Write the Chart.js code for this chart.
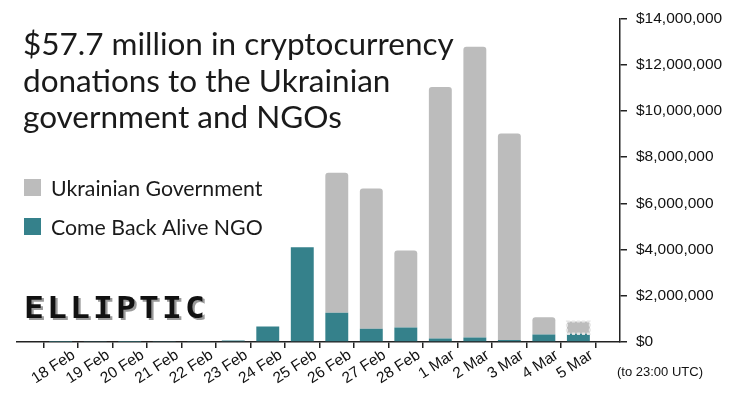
<!DOCTYPE html>
<html>
<head>
<meta charset="utf-8">
<script src="https://cdn.jsdelivr.net/npm/chart.js@4.4.1/dist/chart.umd.min.js"></script>
<style>
  html, body { margin: 0; padding: 0; background: #fff; }
</style>
</head>
<body>
<canvas id="myChart" width="731" height="395"></canvas>
<script>
// daily donations, USD
const dates = ["18 Feb", "19 Feb", "20 Feb", "21 Feb", "22 Feb", "23 Feb", "24 Feb", "25 Feb",
  "26 Feb", "27 Feb", "28 Feb", "1 Mar", "2 Mar", "3 Mar", "4 Mar", "5 Mar"];
const comeBackAlive = [15000, 20000, 12000, 18000, 22000, 60000, 670000, 4100000,
  1260000, 570000, 630000, 150000, 200000, 90000, 320000, 360000];
const ukrGovernment = [0, 0, 0, 0, 0, 0, 0, 0,
  6060000, 6070000, 3330000, 10880000, 12570000, 8930000, 750000, 530000];
const yTicks = [0, 2000000, 4000000, 6000000, 8000000, 10000000, 12000000, 14000000];
const titleLines = ["$57.7 million in cryptocurrency", "donations to the Ukrainian", "government and NGOs"];

const teal = '#35818b';
const grey = '#bcbcbc';

// title, legend, logo and the partial-day marker
const extras = {
  id: 'extras',
  afterDraw(chart) {
    const ctx = chart.ctx;
    ctx.save();
    ctx.fillStyle = '#1a1a1a';
    ctx.font = '31.5px Lato';
    ctx.textBaseline = 'alphabetic';
    titleLines.forEach((t, i) => ctx.fillText(t, 23, 55 + i * 36.5));

    // legend
    ctx.font = '21.3px Lato';
    const items = [chart.data.datasets[1], chart.data.datasets[0]];
    items.forEach((ds, i) => {
      const y = 179 + i * 39;
      ctx.fillStyle = ds.backgroundColor;
      ctx.fillRect(24, y, 17, 17);
      ctx.fillStyle = '#1a1a1a';
      ctx.fillText(ds.label, 51, y + 17);
    });

    // logo
    ctx.font = 'bold 30px "DejaVu Sans Mono"';
    const logo = 'ELLIPTIC';
    for (let i = 0; i < logo.length; i++) {
      ctx.save();
      ctx.translate(24 + i * 23, 318);
      ctx.scale(1.1, 1);
      ctx.fillStyle = '#9a9a9a';
      ctx.fillText(logo[i], 2, 2);
      ctx.fillStyle = '#111';
      ctx.fillText(logo[i], 0, 0);
      ctx.restore();
    }

    // note under the y axis
    ctx.font = '13px "Liberation Sans"';
    ctx.fillStyle = '#111';
    ctx.textBaseline = 'middle';
    ctx.fillText('(to 23:00 UTC)', 617, 372);

    // dashed outline on the incomplete last day
    const last = dates.length - 1;
    const g = chart.getDatasetMeta(1).data[last];
    const c = chart.getDatasetMeta(0).data[last];
    ctx.setLineDash([3, 2]);
    ctx.lineWidth = 2;
    ctx.strokeStyle = '#e6e6e6';
    ctx.strokeRect(g.x - g.width / 2, g.y, g.width, g.base - g.y);
    ctx.beginPath();
    ctx.moveTo(c.x - c.width / 2, c.y);
    ctx.lineTo(c.x + c.width / 2, c.y);
    ctx.stroke();
    ctx.restore();
  }
};

const tickFont = { family: '"Liberation Sans", Arial, sans-serif', size: 15.5 };

new Chart(document.getElementById('myChart'), {
  type: 'bar',
  data: {
    datasets: [{
      label: 'Come Back Alive NGO',
      data: comeBackAlive.map((v, i) => ({ x: i, y: v })),
      backgroundColor: teal,
      borderRadius: 0
    }, {
      label: 'Ukrainian Government',
      data: ukrGovernment.map((v, i) => ({ x: i, y: v })),
      backgroundColor: grey,
      borderRadius: { topLeft: 3, topRight: 3 }
    }]
  },
  options: {
    responsive: false,
    animation: false,
    devicePixelRatio: 1,
    barPercentage: 0.83,
    categoryPercentage: 0.8,
    layout: { padding: { left: 17, top: 15, right: 0, bottom: 0 } },
    plugins: { legend: { display: false }, tooltip: { enabled: false } },
    scales: {
      x: {
        type: 'linear',
        stacked: true,
        min: -0.72,
        max: 15.66,
        afterBuildTicks: s => { s.ticks = dates.map((d, i) => ({ value: i })); },
        afterFit: s => { s.height = 53; },
        border: { color: '#222', width: 1.5 },
        grid: { drawOnChartArea: false, tickLength: 6, color: '#222', lineWidth: 1.5 },
        ticks: {
          autoSkip: false,
          minRotation: 33,
          maxRotation: 33,
          labelOffset: 13,
          padding: -2,
          color: '#111',
          font: tickFont,
          callback: v => dates[v]
        }
      },
      y: {
        position: 'right',
        stacked: true,
        min: 0,
        max: 14000000,
        afterBuildTicks: s => { s.ticks = yTicks.map(v => ({ value: v })); },
        afterFit: s => { s.width = 111; },
        border: { color: '#222', width: 1.5 },
        grid: { drawOnChartArea: false, tickLength: 7, color: '#222', lineWidth: 1.5 },
        ticks: {
          padding: 9,
          color: '#111',
          font: tickFont,
          callback: v => '$' + v.toLocaleString('en-US')
        }
      }
    }
  },
  plugins: [extras]
});
</script>
</body>
</html>
